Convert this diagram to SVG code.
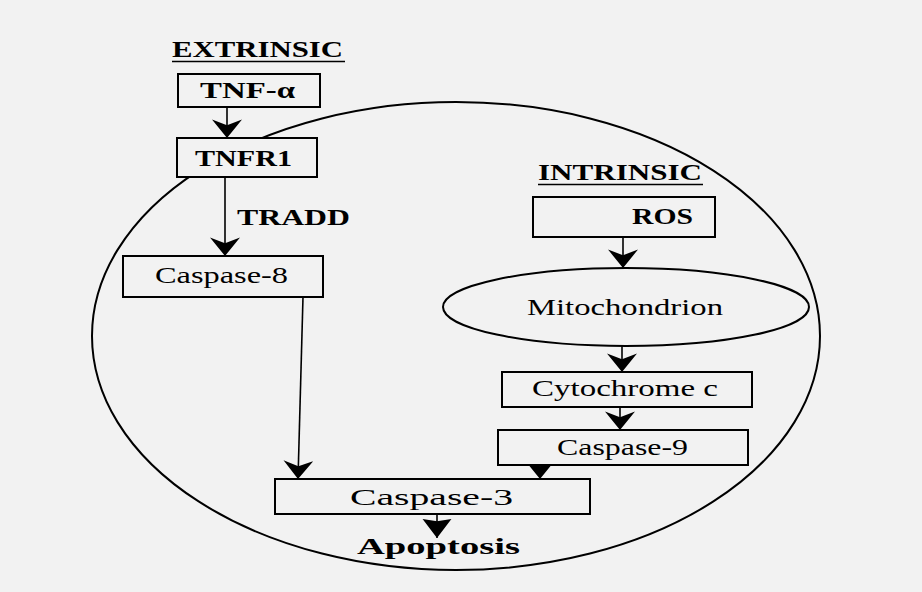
<svg xmlns="http://www.w3.org/2000/svg" width="922" height="592" viewBox="0 0 922 592">
<defs>
<style>
.box{fill:#f2f2f2;stroke:#000;stroke-width:2}
.cell{fill:none;stroke:#000;stroke-width:2}
.conn{fill:none;stroke:#000;stroke-width:1.6}
.t{font-family:"Liberation Serif","Times New Roman",serif;fill:#000;font-size:23px}
.b{font-weight:bold}
.ul{stroke:#000;stroke-width:1.6}
</style>
<marker id="ah" markerUnits="userSpaceOnUse" markerWidth="20" markerHeight="30" refX="16" refY="13" orient="auto" viewBox="0 0 17 26">
<path d="M0,0 L16,13 L0,26 L5,13 Z" fill="#000"/>
</marker>
<marker id="ahBig" markerUnits="userSpaceOnUse" markerWidth="20" markerHeight="30" refX="17" refY="13" orient="auto" viewBox="0 0 18 26">
<path d="M0,0 L17,13 L0,26 L2,13 Z" fill="#000"/>
</marker>
</defs>
<rect x="0" y="0" width="922" height="592" fill="#f2f2f2"/>
<ellipse id="cell" class="cell" cx="456" cy="336" rx="364" ry="234"/>

<g id="labels">
<text class="t b" x="172" y="57" font-size="22" textLength="171" lengthAdjust="spacingAndGlyphs">EXTRINSIC</text>
<line class="ul" x1="172" y1="61.5" x2="345" y2="61.5"/>
<text class="t b" x="538" y="180" textLength="164" lengthAdjust="spacingAndGlyphs">INTRINSIC</text>
<line class="ul" x1="538" y1="184.5" x2="703" y2="184.5"/>
<text class="t b" x="237" y="225" font-size="22" textLength="113" lengthAdjust="spacingAndGlyphs">TRADD</text>
</g>

<g id="connectors">
<path class="conn" d="M227,107 L227,138" marker-end="url(#ah)"/>
<path class="conn" d="M225,177 L225,256" marker-end="url(#ah)"/>
<path class="conn" d="M303,297 L298,479" marker-end="url(#ah)"/>
<path class="conn" d="M623,237 L623,268" marker-end="url(#ah)"/>
<path class="conn" d="M622,346 L622,372" marker-end="url(#ah)"/>
<path class="conn" d="M620,407 L620,430" marker-end="url(#ah)"/>
<path class="conn" d="M540,465 L540,479" marker-end="url(#ah)"/>
<path class="conn" d="M437,514 L437,538" marker-end="url(#ahBig)"/>
</g>

<g id="tnfa">
<rect class="box" x="178" y="74" width="142" height="33"/>
<text class="t b" x="200" y="98" textLength="95" lengthAdjust="spacingAndGlyphs">TNF-α</text>
</g>
<g id="tnfr1">
<rect class="box" x="177" y="138" width="140" height="39"/>
<text class="t b" x="195" y="166" textLength="97" lengthAdjust="spacingAndGlyphs">TNFR1</text>
</g>
<g id="caspase8">
<rect class="box" x="123" y="256" width="200" height="41"/>
<text class="t" x="155" y="283" font-size="24" textLength="133" lengthAdjust="spacingAndGlyphs">Caspase-8</text>
</g>
<g id="ros">
<rect class="box" x="533" y="197" width="182" height="40"/>
<text class="t b" x="632" y="224" textLength="61" lengthAdjust="spacingAndGlyphs">ROS</text>
</g>
<g id="mitochondrion">
<ellipse class="box" cx="626" cy="307" rx="183" ry="39"/>
<text class="t" x="527" y="315" font-size="24" textLength="196" lengthAdjust="spacingAndGlyphs">Mitochondrion</text>
</g>
<g id="cytochrome">
<rect class="box" x="502" y="372" width="250" height="35"/>
<text class="t" x="532" y="396" font-size="24" textLength="186" lengthAdjust="spacingAndGlyphs">Cytochrome c</text>
</g>
<g id="caspase9">
<rect class="box" x="498" y="430" width="250" height="35"/>
<text class="t" x="557" y="455" font-size="24" textLength="131" lengthAdjust="spacingAndGlyphs">Caspase-9</text>
</g>
<g id="caspase3">
<rect class="box" x="275" y="479" width="315" height="35"/>
<text class="t" x="350" y="505" font-size="28" textLength="163" lengthAdjust="spacingAndGlyphs">Caspase-3</text>
</g>
<g id="apoptosis">
<text class="t b" x="357" y="554" font-size="25" textLength="163" lengthAdjust="spacingAndGlyphs">Apoptosis</text>
</g>
</svg>
